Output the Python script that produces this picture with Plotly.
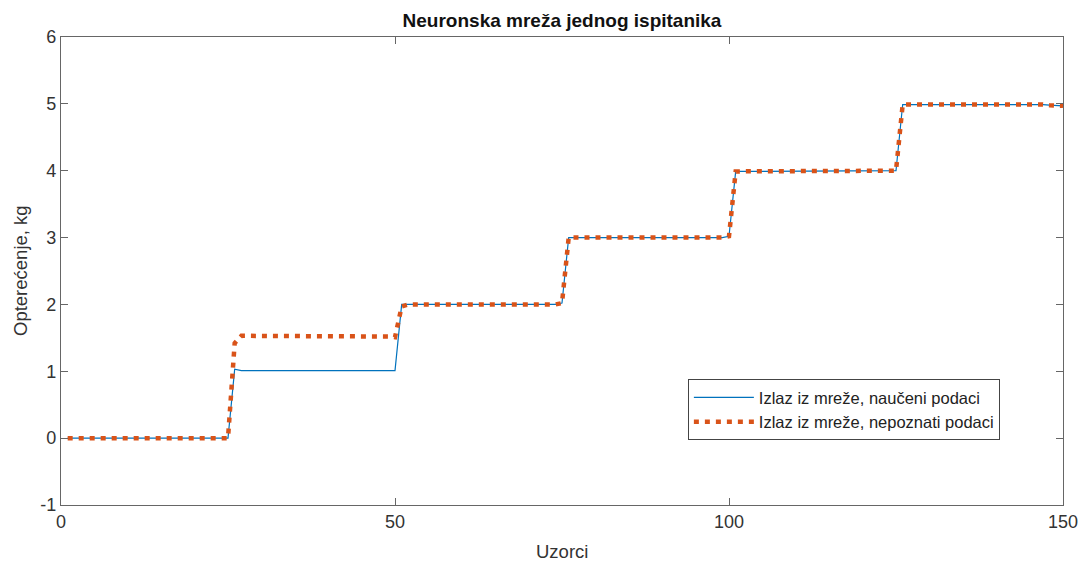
import plotly.graph_objects as go

x_samples = list(range(1, 151))

# Blue: network output, learned data (levels per block of 25 samples)
blue_block_levels = [
    [0.0] * 25,
    [1.03] + [1.01] * 3 + [1.0] * 20 + [1.01],
    [2.0] * 3 + [2.0] * 21 + [2.02],
    [3.0] * 24 + [3.02],
    [3.99] * 24 + [4.0],
    [4.99] * 5 + [5.0] * 10 + [4.99] * 7 + [4.98, 4.98, 4.97],
]
orange_block_levels = [
    [0.0] * 25,
    [1.42] + [1.53] * 10 + [1.52] * 13 + [1.51],
    [1.97] + [2.0] * 23 + [2.02],
    [3.0] * 24 + [3.02],
    [3.99] * 24 + [4.0],
    [4.99] * 5 + [5.0] * 10 + [4.99] * 7 + [4.98, 4.98, 4.97],
]
blue_values = [v for blk in blue_block_levels for v in blk]
orange_values = [v for blk in orange_block_levels for v in blk]

x_ticks = [0, 50, 100, 150]
x_tick_labels = ["0", "50", "100", "150"]
y_ticks = [-1, 0, 1, 2, 3, 4, 5, 6]
y_tick_labels = ["-1", "0", "1", "2", "3", "4", "5", "6"]

fig = go.Figure()
fig.add_trace(go.Scatter(
    x=x_samples, y=blue_values, mode="lines",
    name="Izlaz iz mreže, naučeni podaci",
    line=dict(color="#0072BD", width=1.2),
))
fig.add_trace(go.Scatter(
    x=x_samples, y=orange_values, mode="lines",
    name="Izlaz iz mreže, nepoznati podaci",
    line=dict(color="#D95319", width=4.5, dash="5px,6px"),
))

axis_common = dict(
    showgrid=False, zeroline=False, showline=True, mirror="ticks",
    linecolor="#666666", linewidth=1.3, ticks="inside", ticklen=7,
    tickcolor="#666666", tickfont=dict(size=18, color="#333333"),
    automargin=False, ticklabeloverflow="allow",
)
fig.update_layout(
    width=1078, height=561,
    margin=dict(l=61, r=15, t=37, b=56),
    paper_bgcolor="white", plot_bgcolor="white",
    font=dict(family="Liberation Sans, Arial, sans-serif", color="#333333"),
    title=dict(text="<b>Neuronska mreža jednog ispitanika</b>", x=0.5,
               xref="paper", yref="container", y=1 - 20 / 561, yanchor="middle",
               font=dict(size=19, color="#111111")),
    xaxis=dict(range=[0, 150.0001], tickvals=x_ticks, ticktext=x_tick_labels,
               **axis_common),
    yaxis=dict(range=[-1, 6], tickvals=y_ticks, ticktext=y_tick_labels,
               **axis_common),
    legend=dict(x=0.937, y=0.269, xanchor="right", yanchor="top",
                bgcolor="white", bordercolor="#444444", borderwidth=1,
                itemwidth=60,
                font=dict(size=16.5, color="#222222"), tracegroupgap=0),
    showlegend=True,
    annotations=[
        dict(text="Uzorci", xref="paper", yref="paper", x=0.5, y=0,
             xanchor="center", yanchor="middle", yshift=-46, showarrow=False,
             font=dict(size=18.5, color="#333333")),
        dict(text="Opterećenje, kg", xref="paper", yref="paper", x=0, y=0.5,
             xanchor="center", yanchor="middle", xshift=-41, textangle=-90,
             showarrow=False, font=dict(size=18.5, color="#333333")),
    ],
)

fig.write_html(
    "out.html",
    config={"displayModeBar": False},
    post_script="document.body.style.margin='0';document.body.style.overflow='hidden';",
)
